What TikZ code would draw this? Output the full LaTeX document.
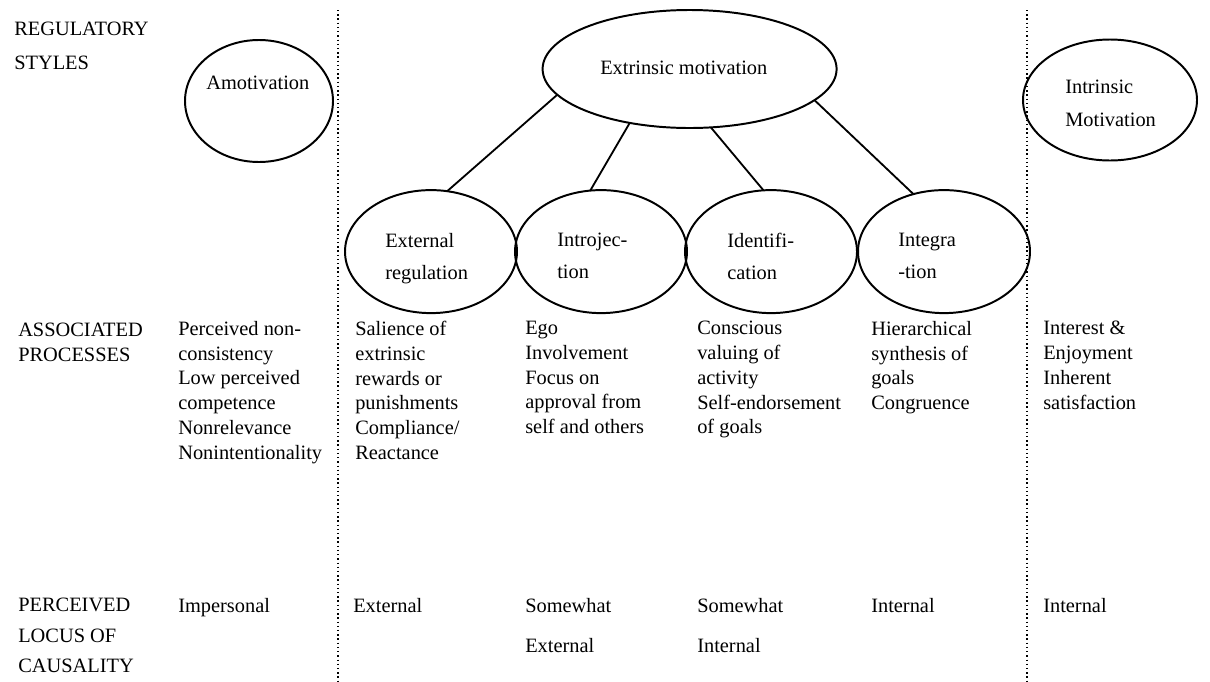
\documentclass[tikz,border=0pt]{standalone}
\usepackage{fontspec}
\setmainfont{Liberation Serif}
\usetikzlibrary{shapes.geometric}
\begin{document}
\begin{tikzpicture}[
    oval/.style={draw, ellipse, line width=1.4pt, inner sep=0pt, outer sep=0pt},
    lower/.style={oval, minimum width=4.3cm, minimum height=3.075cm},
    txt/.style={anchor=north west, align=left, inner sep=0pt,
                font=\fontsize{14.5}{17.6}\selectfont},
    sep/.style={line width=1pt, dash pattern=on 1pt off 2pt},
    link/.style={line width=1.3pt}]
    \useasboundingbox (0,0) rectangle (30.25,-17.025);
    \draw[sep] (8.45,-0.25) -- (8.45,-17.025);
    \draw[sep] (25.675,-0.25) -- (25.675,-17.025);
    \node[oval, minimum width=3.7cm, minimum height=3.05cm] (amot) at (6.475,-2.525) {};
    \node[oval, minimum width=7.35cm, minimum height=2.95cm] (extr) at (17.24,-1.725) {};
    \node[oval, minimum width=4.35cm, minimum height=3.025cm] (intr) at (27.75,-2.5) {};
    \node[lower] (extreg) at (10.775,-6.29) {};
    \node[lower] (introj) at (15.025,-6.29) {};
    \node[lower] (ident) at (19.275,-6.29) {};
    \node[lower] (integ) at (23.6,-6.29) {};
    \draw[link] (extr.191) -- (extreg.75);
    \draw[link] (extr.222) -- (introj.100);
    \draw[link] (extr.290) -- (ident.97);
    \draw[link] (extr.346) -- (integ.118);
    \node[txt] (amotl) at (5.15,-1.9) {Amotivation};
    \node[txt] (extrl) at (15.0,-1.53) {Extrinsic motivation};
    \node[txt] (intrl) at (26.625,-2.0) {Intrinsic\\[5.8pt]Motivation};
    \node[txt] (extregl) at (9.625,-5.825) {External\\[5.1pt]regulation};
    \node[txt] (introjl) at (13.925,-5.825) {Introjec-\\[5.1pt]tion};
    \node[txt] (identl) at (18.175,-5.825) {Identifi-\\[5.1pt]cation};
    \node[txt] (integl) at (22.45,-5.825) {Integra\\[5.1pt]-tion};
    \node[txt] (regsty) at (0.35,-0.55) {REGULATORY\\[6.5pt]STYLES};
    \node[txt] (assproc) at (0.45,-8.075) {ASSOCIATED\\PROCESSES};
    \node[txt] (locus) at (0.45,-14.95) {PERCEIVED\\[4pt]LOCUS OF\\[4pt]CAUSALITY};
    \node[txt] (pamot) at (4.45,-8.025) {Perceived non-\\consistency\\Low perceived\\competence\\Nonrelevance\\Nonintentionality};
    \node[txt] (pextreg) at (8.875,-8.025) {Salience of\\extrinsic\\rewards or\\punishments\\Compliance/\\Reactance};
    \node[txt] (pintroj) at (13.125,-8.025) {Ego\\Involvement\\Focus on\\approval from\\self and others};
    \node[txt] (pident) at (17.425,-8.025) {Conscious\\valuing of\\activity\\Self-endorsement\\of goals};
    \node[txt] (pinteg) at (21.775,-8.025) {Hierarchical\\synthesis of\\goals\\Congruence};
    \node[txt] (pintr) at (26.075,-8.025) {Interest \&\\Enjoyment\\Inherent\\satisfaction};
    \node[txt] (camot) at (4.45,-14.95) {Impersonal};
    \node[txt] (cextreg) at (8.825,-14.95) {External};
    \node[txt] (cintroj) at (13.125,-14.95) {Somewhat\\[10.7pt]External};
    \node[txt] (cident) at (17.425,-14.95) {Somewhat\\[10.7pt]Internal};
    \node[txt] (cinteg) at (21.775,-14.95) {Internal};
    \node[txt] (cintr) at (26.075,-14.95) {Internal};
\end{tikzpicture}
\end{document}
